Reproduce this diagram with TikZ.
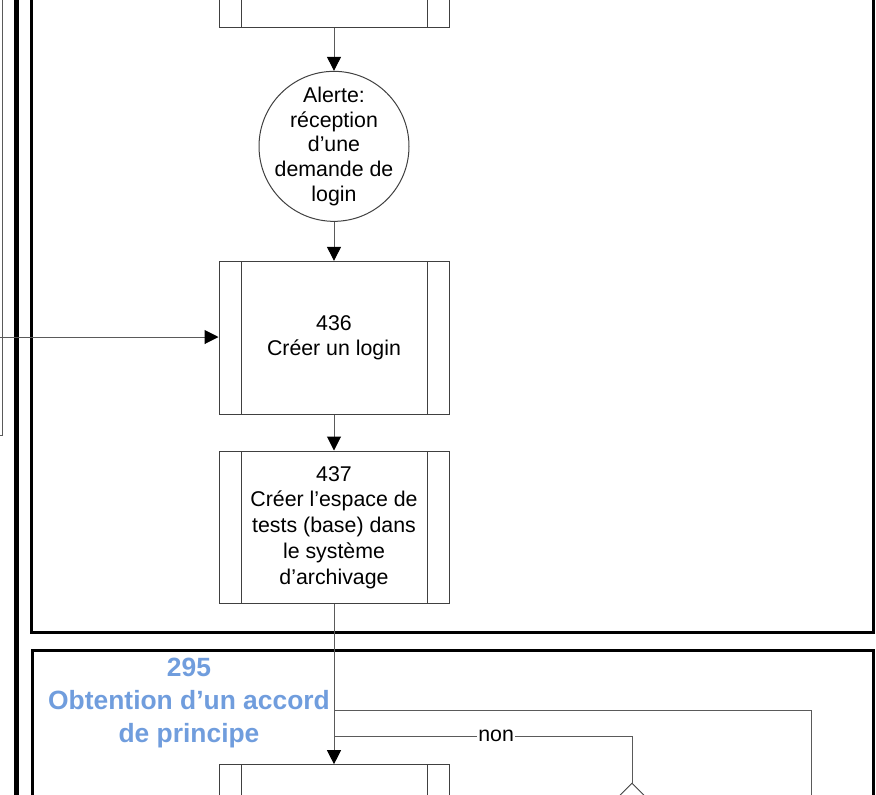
\documentclass[tikz,border=0pt]{standalone}
\usepackage{fontspec}
\setmainfont{Liberation Sans}
\usepackage{tikz}
\usetikzlibrary{positioning}
\usetikzlibrary{shapes,arrows,arrows.meta}
\definecolor{boxgray}{RGB}{64,64,64}
\definecolor{linegray}{RGB}{90,90,90}
\definecolor{titleblue}{RGB}{112,157,221}
\tikzset{%
  process/.style  = {draw=boxgray, line width=0.75pt, rectangle, minimum width=172.5pt,
    minimum height=114.5pt, align=center, inner sep=0pt,
    path picture={\draw[boxgray, line width=0.75pt]
      ([xshift=16.5pt]path picture bounding box.north west) -- ([xshift=16.5pt]path picture bounding box.south west)
      ([xshift=-16.5pt]path picture bounding box.north east) -- ([xshift=-16.5pt]path picture bounding box.south east);}},
  event/.style    = {draw=boxgray, line width=0.75pt, circle, minimum size=112.5pt,
    inner sep=-12pt, align=center, font=\fontsize{16}{18.5}\selectfont}, % Alerte
  decision/.style = {draw=boxgray, line width=0.75pt, diamond, minimum width=60pt,
    minimum height=60pt}, % Test
  lane/.style     = {draw=black, line width=2.25pt},
  pool/.style     = {draw=black, line width=3.75pt},
  flow/.style     = {draw=linegray, line width=0.75pt},
  lanetitle/.style= {text=titleblue, align=center, font=\bfseries\fontsize{19.8}{24.75}\selectfont}
}

\begin{document}
\begin{tikzpicture}[x=0.75pt, y=-0.75pt, font=\fontsize{16}{19.3}\selectfont,
  >={Triangle[length=10.5pt,width=10.5pt,color=black]}]

  \useasboundingbox (0,0) rectangle (876,794);
  \clip (0,0) rectangle (876,794);

  % couloirs
  \draw[draw=linegray, line width=0.75pt] (-10,435) -- (2,435) -- (2,-10);
  \draw[pool] (16,-10) -- (16,810);
  \draw[lane] (31,-10) |- (873,632) -- (873,-10);
  \draw[lane] (32,810) |- (873,650) -- (873,810);
  \node[lanetitle] (titre295) at (189,703) {295\\Obtention d’un accord\\de principe};

  % etapes
  \node[process] at (334,-49) (prec) {};
  \node[event, below=32.25pt of prec] (alerte) {Alerte:\\réception\\d’une\\demande de\\login};
  \node[process, below=29.25pt of alerte] (login) {436\\Créer un login};
  \node[process, below=27pt of login] (espace) {437\\Créer l’espace de\\tests (base) dans\\le système\\d’archivage};
  \node[process, below=120pt of espace] (suivant) {};
  \node[decision] at (632,823) (test) {};

  \coordinate (externe) at (0,337);
  \coordinate (retour) at (811,810);
  \coordinate (jonction1) at (334,710);
  \coordinate (jonction2) at (334,736);

  \draw[flow, ->] (prec) -- (alerte);
  \draw[flow, ->] (alerte) -- (login);
  \draw[flow, ->] (login) -- (espace);
  \draw[flow, ->] (externe) -- (externe -| login.west);
  \draw[flow, ->] (espace) -- (suivant);
  \draw[flow] (retour) |- (jonction1);
  \draw[flow] (test.north) |- node[pos=0.728, fill=white, inner sep=1pt, text=black] {non} (jonction2);

\end{tikzpicture}
\end{document}
